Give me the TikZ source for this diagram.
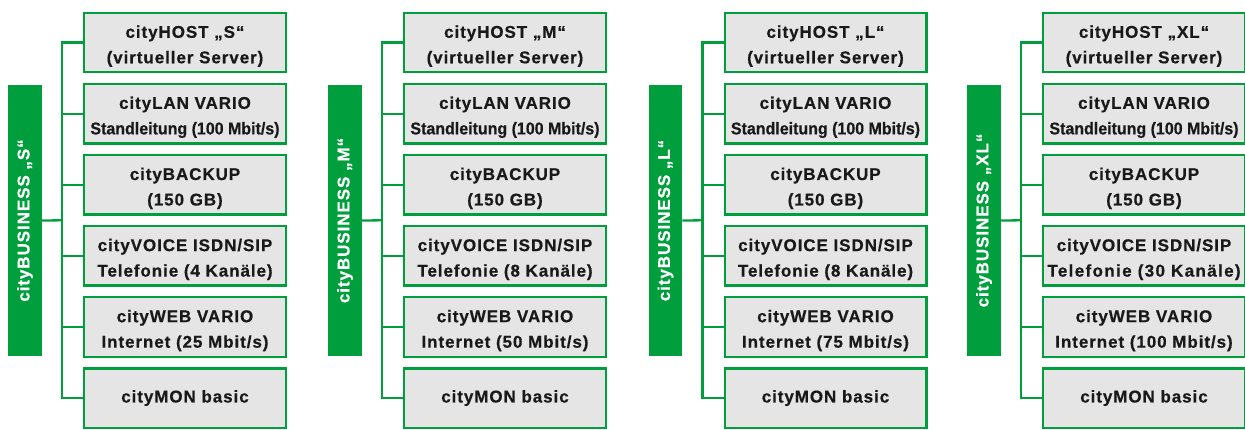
\documentclass[tikz,border=0pt]{standalone}
\usepackage{fontspec}
\usepackage{graphicx}
\setmainfont{Liberation Sans}[LetterSpace=5.5,FakeBold=0.6]
\definecolor{cbgreen}{RGB}{0,158,60}
\definecolor{boxgray}{RGB}{229,229,229}
\definecolor{textc}{RGB}{25,25,25}
\newcommand\boxfont{\fontsize{17}{25.5}\selectfont\bfseries}
\newcommand\sqz[1]{\scalebox{0.94}[1]{\addfontfeature{LetterSpace=0}#1}}
\newcommand\wid[1]{{\addfontfeature{LetterSpace=8}#1}}
\newcommand\up{\rule{0pt}{19.5pt}}
\tikzset{
  cbbox/.style={draw=cbgreen, line width=2.3pt, fill=boxgray, minimum width=201.7pt,
    minimum height=59.4pt, inner sep=0pt, align=center, font=\boxfont, text=textc},
  cbbar/.style={fill=cbgreen, rotate=90, minimum width=271pt, minimum height=33.4pt,
    inner sep=0pt, font=\boxfont, text=white},
  cbline/.style={draw=cbgreen, line width=2.3pt}
}
\newcommand\cbgroup[5]{%
  \begin{scope}[xshift=#1pt]
    \node[cbbar] (#2bar) at (25,220.5) {cityBUSINESS „#3“};
    \node[cbbox] (#2b1) at (185,42.55)  {\up cityHOST „#3“\\(virtueller Server)};
    \node[cbbox] (#2b2) at (185,113.65) {\up cityLAN VARIO\\\sqz{Standleitung (100 Mbit/s)}};
    \node[cbbox] (#2b3) at (185,184.75) {\up cityBACKUP\\(150 GB)};
    \node[cbbox] (#2b4) at (185,255.85) {\up cityVOICE ISDN/SIP\\#4};
    \node[cbbox] (#2b5) at (185,326.95) {\up cityWEB VARIO\\#5};
    \node[cbbox] (#2b6) at (185,398.05) {cityMON basic};
    \coordinate (#2t) at (62,220.3);
    \draw[cbline] (#2b1.west) -| (#2t) |- (#2b6.west);
    \draw[cbline] (#2t |- #2b2.west) -- (#2b2.west);
    \draw[cbline] (#2t |- #2b3.west) -- (#2b3.west);
    \draw[cbline] (#2t |- #2b4.west) -- (#2b4.west);
    \draw[cbline] (#2t |- #2b5.west) -- (#2b5.west);
    \draw[cbline] (#2bar.south) -- (#2t);
  \end{scope}}
\begin{document}
\begin{tikzpicture}[x=1pt,y=-1pt]
  \useasboundingbox (0,0) rectangle (1245,429);
  \cbgroup{0}{gS}{S}{Telefonie (4 Kanäle)}{Internet (25 Mbit/s)}
  \cbgroup{320}{gM}{M}{Telefonie (8 Kanäle)}{Internet (50 Mbit/s)}
  \cbgroup{640.5}{gL}{L}{Telefonie (8 Kanäle)}{Internet (75 Mbit/s)}
  \cbgroup{959}{gXL}{XL}{\wid{Telefonie (30 Kanäle)}}{Internet (100 Mbit/s)}
\end{tikzpicture}
\end{document}
